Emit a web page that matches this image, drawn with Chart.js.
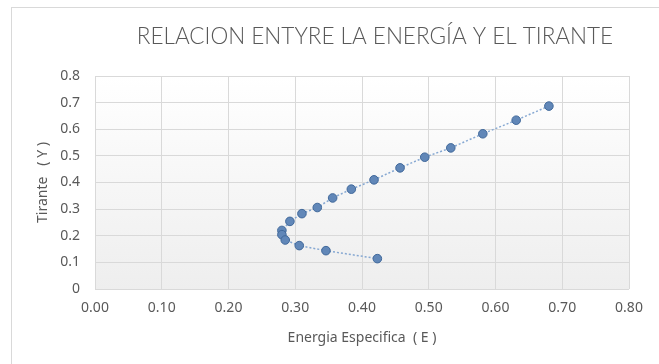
<!DOCTYPE html>
<html>
<head>
<meta charset="utf-8">
<script src="https://cdn.jsdelivr.net/npm/chart.js@4/dist/chart.umd.min.js"></script>
<style>
  html, body { margin: 0; padding: 0; background: #ffffff; }
  #wrap { position: relative; width: 659px; height: 364px; }
  canvas { display: block; }
</style>
</head>
<body>
<div id="wrap"><canvas id="chart" width="659" height="364"></canvas></div>
<script>
// Specific energy (E) against flow depth (Y)
const energia = [0.680, 0.631, 0.581, 0.533, 0.494, 0.457, 0.418, 0.384, 0.356, 0.333, 0.310, 0.292, 0.280, 0.280, 0.285, 0.306, 0.346, 0.423];
const tirante = [0.687, 0.634, 0.583, 0.530, 0.495, 0.455, 0.410, 0.375, 0.342, 0.306, 0.283, 0.254, 0.220, 0.204, 0.184, 0.163, 0.144, 0.114];

const xTicks = [0.00, 0.10, 0.20, 0.30, 0.40, 0.50, 0.60, 0.70, 0.80];
const yTicks = [0, 0.1, 0.2, 0.3, 0.4, 0.5, 0.6, 0.7, 0.8];

const titulo = 'RELACION ENTYRE LA ENERGÍA Y EL TIRANTE';
const tituloX = 'Energia Especifica  ( E )';
const tituloY = 'Tirante   ( Y )';

const puntos = energia.map((e, i) => ({ x: e, y: tirante[i] }));

const textColor = '#595959';
const gridColor = '#d9d9d9';
const baseFont = "'Noto Sans', 'Open Sans', sans-serif";

// outer frame, plot-area gradient and the heading
const decor = {
  id: 'decor',
  beforeDraw(chart) {
    const { ctx, chartArea: a } = chart;
    ctx.save();
    ctx.strokeStyle = gridColor;
    ctx.lineWidth = 1;
    ctx.strokeRect(11.5, 7.5, 700, 400);
    const g = ctx.createLinearGradient(0, a.top, 0, a.bottom);
    g.addColorStop(0, '#ffffff');
    g.addColorStop(1, '#eeeeee');
    ctx.fillStyle = g;
    ctx.fillRect(a.left, a.top, a.right - a.left, a.bottom - a.top);
    ctx.fillStyle = textColor;
    ctx.font = "300 22.5px Lato, 'Open Sans', sans-serif";
    ctx.textAlign = 'center';
    ctx.textBaseline = 'middle';
    ctx.fillText(titulo, 375, 37);
    ctx.restore();
  }
};

new Chart(document.getElementById('chart'), {
  type: 'scatter',
  data: {
    datasets: [{
      data: puntos,
      showLine: true,
      borderColor: '#86a8d2',
      borderWidth: 1.5,
      borderDash: [2, 2],
      pointRadius: 4.3,
      pointHoverRadius: 4.3,
      pointBackgroundColor: '#6187b8',
      pointBorderColor: '#41699b',
      pointBorderWidth: 1
    }]
  },
  options: {
    responsive: false,
    animation: false,
    layout: { padding: { top: 76, right: 30, left: 0, bottom: 0 } },
    plugins: { legend: { display: false }, tooltip: { enabled: false }, title: { display: false } },
    scales: {
      x: {
        type: 'linear',
        min: 0, max: 0.8,
        afterBuildTicks: s => { s.ticks = xTicks.map(v => ({ value: v })); },
        afterFit: s => { s.height = 75; },
        grid: { color: gridColor, lineWidth: 1, drawTicks: false },
        border: { display: false },
        ticks: {
          padding: 11,
          color: textColor,
          font: { family: baseFont, size: 14 },
          maxRotation: 0,
          callback: v => Number(v).toFixed(2)
        },
        title: {
          display: true,
          text: tituloX,
          color: textColor,
          font: { family: baseFont, size: 14 },
          padding: { top: 0, bottom: 18 }
        }
      },
      y: {
        type: 'linear',
        min: 0, max: 0.8,
        afterBuildTicks: s => { s.ticks = yTicks.map(v => ({ value: v })); },
        afterFit: s => { s.width = 95; },
        grid: { color: gridColor, lineWidth: 1, drawTicks: false },
        border: { display: true, color: gridColor },
        ticks: {
          padding: 15,
          color: textColor,
          font: { family: baseFont, size: 14 },
          callback: v => (v === 0 ? '0' : Number(v).toFixed(1))
        },
        title: {
          display: true,
          text: tituloY,
          color: textColor,
          font: { family: baseFont, size: 14 },
          padding: { top: 35, bottom: 0 }
        }
      }
    }
  },
  plugins: [decor]
});
</script>
</body>
</html>
